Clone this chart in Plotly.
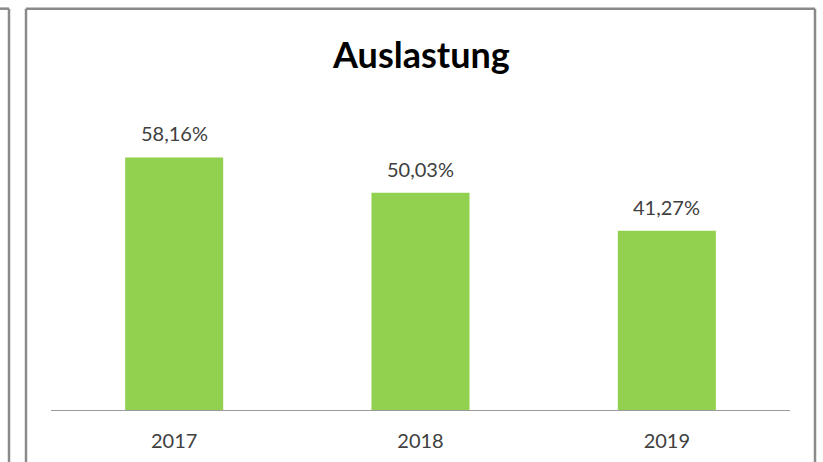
import plotly.graph_objects as go

years = ["2017", "2018", "2019"]
auslastung = [58.16, 50.03, 41.27]

W, H = 823, 462
L, R, T, B = 51, 790, 105.5, 410  # plot area in pixels


def px(x):
    return (x - L) / (R - L)


def py(y):
    return (B - y) / (B - T)


fig = go.Figure(
    go.Bar(
        x=years,
        y=auslastung,
        marker=dict(color="#92D050", line=dict(width=0)),
        hoverinfo="x+y",
    )
)

# value labels above the bars (category index as x position)
for i, v in enumerate(auslastung):
    fig.add_annotation(
        x=i, y=v, xref="x", yref="y",
        text=f"{v:.2f}".replace(".", ",") + "%",
        showarrow=False, yanchor="bottom", yshift=10,
        font=dict(family="Lato, sans-serif", size=20, color="#404040"),
    )

fig.add_annotation(
    x=0.5, y=py(53), xref="paper", yref="paper",
    text="<b>Auslastung</b>", showarrow=False, yanchor="middle",
    font=dict(family="Lato, sans-serif", size=36, color="#000000"),
)

frame = dict(color="#8a8a8a", width=2.5)
# neighbouring chart edge on the left
fig.add_shape(type="line", xref="paper", yref="paper",
              x0=px(0), x1=px(9), y0=py(8), y1=py(8), line=frame)
fig.add_shape(type="line", xref="paper", yref="paper",
              x0=px(9), x1=px(9), y0=py(8), y1=py(470), line=frame)
# chart frame
fig.add_shape(type="line", xref="paper", yref="paper",
              x0=px(26), x1=px(26), y0=py(470), y1=py(8), line=frame)
fig.add_shape(type="line", xref="paper", yref="paper",
              x0=px(26), x1=px(815), y0=py(8), y1=py(8), line=frame)
fig.add_shape(type="line", xref="paper", yref="paper",
              x0=px(815), x1=px(815), y0=py(8), y1=py(470), line=frame)

fig.update_layout(
    width=W, height=H,
    margin=dict(l=L, r=W - R, t=T, b=H - B, pad=0),
    paper_bgcolor="white", plot_bgcolor="white",
    bargap=0.602,
    showlegend=False,
    font=dict(family="Lato, sans-serif", size=20, color="#404040"),
    xaxis=dict(
        type="category", range=[-0.5, len(years) - 0.5],
        automargin=False,
        showline=True, linecolor="#9a9a9a", linewidth=1,
        ticks="", showgrid=False, ticklabelstandoff=13,
        tickfont=dict(family="Lato, sans-serif", size=20, color="#404040"),
    ),
    yaxis=dict(range=[0, 70], visible=False, showgrid=False, automargin=False),
)

fig.write_html("out.html")
